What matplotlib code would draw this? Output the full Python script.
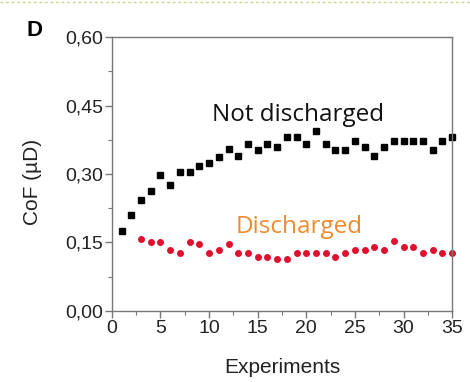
import matplotlib
matplotlib.use("Agg")
import matplotlib.pyplot as plt
from matplotlib.ticker import MultipleLocator, FuncFormatter
from matplotlib.lines import Line2D

plt.rcParams['font.family'] = ['Liberation Sans', 'DejaVu Sans']

experiments_nd = list(range(1, 36))
cof_not_discharged = [0.176, 0.210, 0.243, 0.263, 0.298, 0.277, 0.305, 0.305, 0.317, 0.325,
                      0.338, 0.354, 0.339, 0.366, 0.353, 0.366, 0.360, 0.380, 0.380, 0.366,
                      0.394, 0.366, 0.353, 0.353, 0.373, 0.360, 0.339, 0.360, 0.373, 0.373,
                      0.373, 0.373, 0.353, 0.373, 0.382]
experiments_d = list(range(3, 36))
cof_discharged = [0.158, 0.152, 0.152, 0.134, 0.126, 0.152, 0.146, 0.126, 0.134, 0.146,
                  0.126, 0.126, 0.119, 0.119, 0.113, 0.113, 0.126, 0.126, 0.126, 0.126,
                  0.119, 0.126, 0.134, 0.134, 0.139, 0.134, 0.153, 0.139, 0.139, 0.126,
                  0.134, 0.126, 0.126]

fig = plt.figure(figsize=(4.7, 3.82), dpi=100)
ax = fig.add_axes([0.238, 0.186, 0.724, 0.717])

ax.plot(experiments_nd, cof_not_discharged, linestyle='none', marker='s',
        markersize=3.9, color='black', clip_on=False)
ax.plot(experiments_d, cof_discharged, linestyle='none', marker='o',
        markersize=4.0, color='#E0102F', clip_on=False)

ax.set_xlim(0, 35)
ax.set_ylim(0, 0.60)
ax.xaxis.set_major_locator(MultipleLocator(5))
ax.xaxis.set_minor_locator(MultipleLocator(2.5))
ax.yaxis.set_major_locator(MultipleLocator(0.15))
ax.yaxis.set_minor_locator(MultipleLocator(0.075))
ax.yaxis.set_major_formatter(FuncFormatter(lambda v, p: f"{v:.2f}".replace('.', ',')))

for s in ax.spines.values():
    s.set_color('#777777')
    s.set_linewidth(1.0)
ax.tick_params(which='major', direction='out', length=5, width=1, color='#777777',
               labelsize=14, labelcolor='#222222', top=False, right=False, pad=1.5)
ax.tick_params(which='minor', direction='out', length=3, width=0.8, color='#777777',
               top=False, right=False)

ax.set_xlabel('Experiments', fontsize=15, color='#222222')
ax.set_ylabel('CoF (µD)', fontsize=15, color='#222222')
ax.xaxis.set_label_coords(0.5, -0.208)
ax.xaxis.label.set_va('center')
ax.yaxis.set_label_coords(-0.232, 0.47)
ax.yaxis.label.set_va('center')

ax.text(19.2, 0.43, 'Not discharged', fontsize=17.5, family='Open Sans', color='#111111',
        ha='center', va='center')
ax.text(19.3, 0.184, 'Discharged', fontsize=17.5, family='Open Sans', color='#F08A2E',
        ha='center', va='center')

fig.text(35 / 470, 1 - 30 / 382, 'D', fontsize=16, fontweight='bold',
         ha='center', va='center')

fig.add_artist(Line2D([0, 1], [0.995, 0.995], transform=fig.transFigure,
                      color='#C8D88A', linestyle=(0, (2, 2)), linewidth=1))

fig.savefig('out.png', dpi=100)
